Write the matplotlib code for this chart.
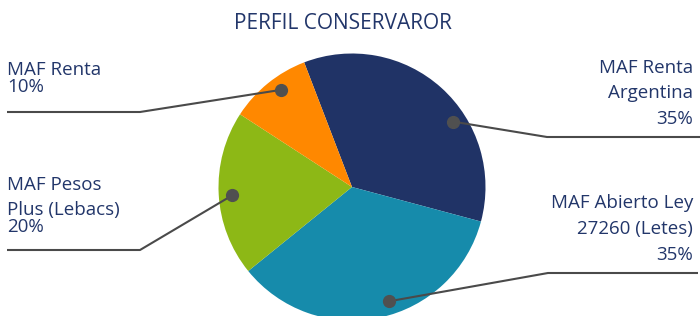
import numpy as np
import matplotlib
matplotlib.use("Agg")
import matplotlib.pyplot as plt

# data
names = ["MAF Renta Argentina", "MAF Abierto Ley 27260 (Letes)", "MAF Pesos Plus (Lebacs)", "MAF Renta"]
shares = [35, 35, 20, 10]
pct_labels = ["35%", "35%", "20%", "10%"]
colors = ["#203366", "#168bab", "#8db816", "#ff8800"]

W, H = 700, 316
plt.rcParams['font.family'] = ['Open Sans', 'DejaVu Sans']
text_color = "#22366a"
line_color = "#4a4a4a"

fig = plt.figure(figsize=(W / 100, H / 100), dpi=100)
ax = fig.add_axes([0, 0, 1, 1])

cx, cy, R = 352, H - 187, 133.5
wedges, _ = ax.pie(shares, colors=colors, startangle=111, counterclock=False,
                   center=(cx, cy), radius=R, wedgeprops=dict(linewidth=0))
ax.set_xlim(0, W)
ax.set_ylim(0, H)
ax.set_aspect('equal')
ax.axis('off')

# leader lines: dot position tweak (deg) and elbow/end points in pixels (y from top)
dot_shift = [-15, 6, 1, -3]
elbows = [(547, 137), (548, 273), (140, 250), (140, 112)]
ends = [(700, 137), (698, 273), (7, 250), (7, 112)]

for w, sh, el, en in zip(wedges, dot_shift, elbows, ends):
    ang = np.deg2rad((w.theta1 + w.theta2) / 2 + sh)
    px, py = cx + 0.9 * R * np.cos(ang), cy + 0.9 * R * np.sin(ang)
    ax.plot([px, el[0], en[0]], [py, H - el[1], H - en[1]], color=line_color, lw=1.5,
            solid_capstyle='butt', zorder=3)
    ax.plot(px, py, 'o', color='#505050', ms=8.5, zorder=4)

fs = 13.5
# right labels (right aligned)
right_lines = [("MAF Renta", 73), ("Argentina", 98), (pct_labels[0], 124),
               ("MAF Abierto Ley", 208), ("27260 (Letes)", 234), (pct_labels[1], 260)]
for s, yb in right_lines:
    ax.text(693, H - yb, s, ha='right', va='baseline', fontsize=fs, color=text_color)

# left labels
left_lines = [("MAF Renta", 75), (pct_labels[3], 92),
              ("MAF Pesos", 190), ("Plus (Lebacs)", 215), (pct_labels[2], 232)]
for s, yb in left_lines:
    ax.text(7, H - yb, s, ha='left', va='baseline', fontsize=fs, color=text_color)

ax.text(343, H - 29, "PERFIL CONSERVAROR", ha='center', va='baseline', fontsize=15,
        color=text_color)

fig.savefig("out.png", dpi=100)
